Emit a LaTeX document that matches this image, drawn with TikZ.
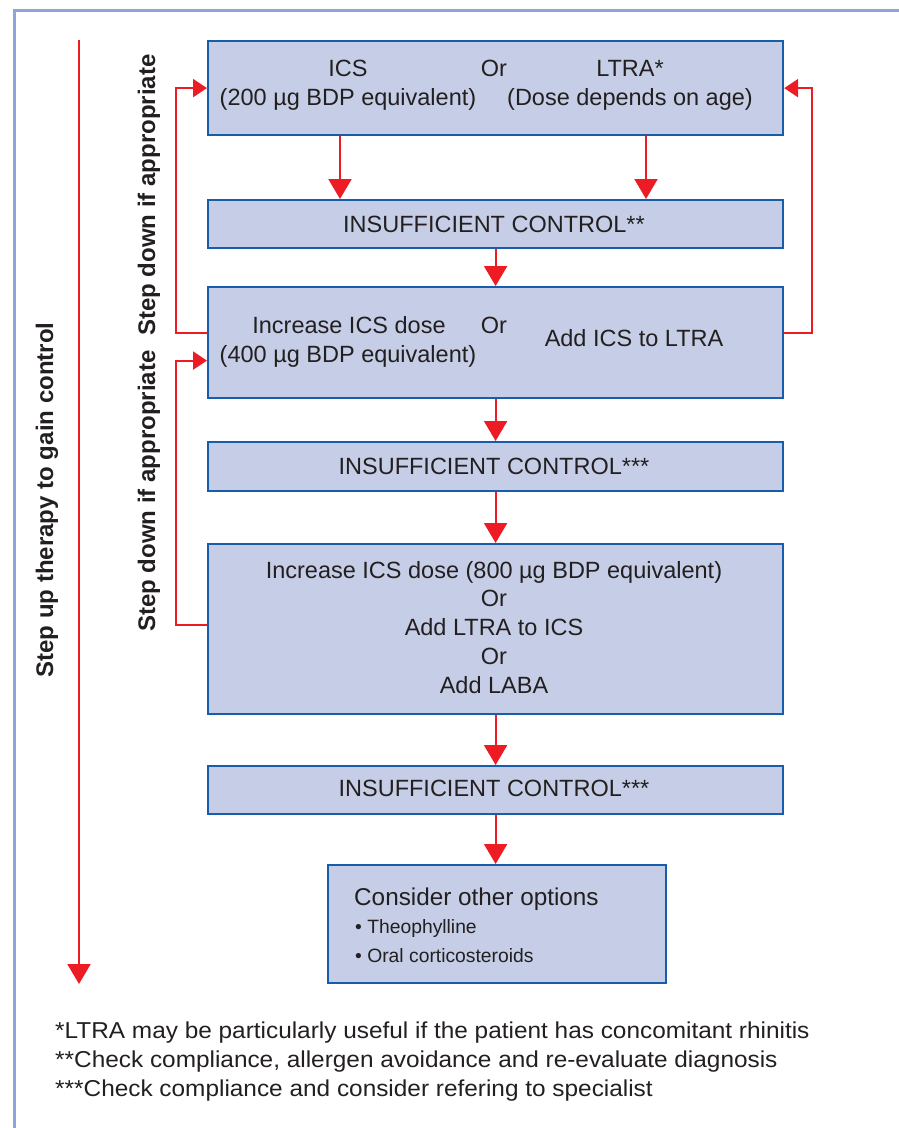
\documentclass[tikz,border=0pt]{standalone}
\usepackage{fontspec}
\setmainfont{Liberation Sans}
\newfontfamily\footfont[FakeStretch=1.06]{Liberation Sans}
\usetikzlibrary{arrows.meta,calc}
\definecolor{boxfill}{RGB}{197,206,230}
\definecolor{boxline}{RGB}{24,92,172}
\definecolor{frameblue}{RGB}{143,164,217}
\definecolor{arrred}{RGB}{237,28,36}
\definecolor{txt}{RGB}{35,31,32}
\begin{document}
\begin{tikzpicture}[x=1pt,y=-1pt,
  box/.style={draw=boxline, line width=2.2pt, fill=boxfill, inner sep=0pt, anchor=north west},
  lbl/.style={text=txt, inner sep=0pt, anchor=base, font=\fontsize{23.5}{28}\selectfont},
  lblw/.style={text=txt, inner sep=0pt, anchor=base west, font=\fontsize{24.3}{28}\selectfont},
  small/.style={text=txt, inner sep=0pt, anchor=base west, font=\fontsize{19.3}{22}\selectfont},
  foot/.style={text=txt, inner sep=0pt, anchor=base west, font=\footfont\fontsize{23}{27}\selectfont},
  side/.style={text=txt, inner sep=0pt, anchor=base, rotate=90, font=\bfseries\fontsize{24}{28}\selectfont},
  arr/.style={draw=arrred, line width=2.2pt, -{Triangle[length=20pt,width=23pt]}},
  back/.style={draw=arrred, line width=2.2pt, -{Triangle[length=14pt,width=18pt]}}]
\useasboundingbox (0,0) rectangle (899,1128);
% frame
\draw[frameblue, line width=3pt] (14,1130) -- (14,10) -- (901,10);

% boxes
\node[box, minimum width=575pt, minimum height=94pt] (A) at (207,40) {};
\node[box, minimum width=575pt, minimum height=48pt] (B) at (207,199) {};
\node[box, minimum width=575pt, minimum height=111pt] (C) at (207,286) {};
\node[box, minimum width=575pt, minimum height=49pt] (D) at (207,441) {};
\node[box, minimum width=575pt, minimum height=170pt] (E) at (207,543) {};
\node[box, minimum width=575pt, minimum height=48pt] (F) at (207,765) {};
\node[box, minimum width=338pt, minimum height=118pt] (G) at (327,864) {};

% box A text
\node[lbl] (a1) at (348,76.5) {ICS};
\node[lbl] (a2) at (348,105.5) {(200 µg BDP equivalent)};
\node[lbl] (a3) at (494,76.5) {Or};
\node[lbl] (a4) at (630,76.5) {LTRA*};
\node[lbl] (a5) at (630,105.5) {(Dose depends on age)};
% box B
\node[lbl] (b1) at (494,232) {INSUFFICIENT CONTROL**};
% box C
\node[lbl] (c1) at (349,333) {Increase ICS dose};
\node[lbl] (c2) at (348,362) {(400 µg BDP equivalent)};
\node[lbl] (c3) at (494,333) {Or};
\node[lbl] (c4) at (634,346) {Add ICS to LTRA};
% box D
\node[lbl] (d1) at (494,474) {INSUFFICIENT CONTROL***};
% box E
\node[lbl] (e1) at (494,578) {Increase ICS dose (800 µg BDP equivalent)};
\node[lbl] (e2) at (494,606) {Or};
\node[lbl] (e3) at (494,635) {Add LTRA to ICS};
\node[lbl] (e4) at (494,664) {Or};
\node[lbl] (e5) at (494,693) {Add LABA};
% box F
\node[lbl] (f1) at (494,796) {INSUFFICIENT CONTROL***};
% box G
\node[lblw] (g1) at (354,905) {Consider other options};
\node[small] (g2) at (355,933) {• Theophylline};
\node[small] (g3) at (355,962) {• Oral corticosteroids};

% side labels
\node[side] (s1) at (53,500) {Step up therapy to gain control};
\node[side] (s2) at (155,195) {Step down if appropriate};
\node[side] (s3) at (155,491) {Step down if appropriate};

% footnotes
\node[foot] (n1) at (55,1038) {*LTRA may be particularly useful if the patient has concomitant rhinitis};
\node[foot] (n2) at (55,1067) {**Check compliance, allergen avoidance and re-evaluate diagnosis};
\node[foot] (n3) at (55,1096) {***Check compliance and consider refering to specialist};

% coordinates
\coordinate (xl) at (340,0);
\coordinate (xr) at (646,0);
\coordinate (fl) at (176,0);
\coordinate (fr) at (812,0);
\coordinate (up0) at (79,40);
\coordinate (up1) at (79,984);

% long arrow
\draw[arr] (up0) -- (up1);

% flow arrows
\draw[arr] (A.south -| xl) -- (B.north -| xl);
\draw[arr] (A.south -| xr) -- (B.north -| xr);
\draw[arr] (B.south) -- (C.north);
\draw[arr] (C.south) -- (D.north);
\draw[arr] (D.south) -- (E.north);
\draw[arr] (E.south) -- (F.north);
\draw[arr] (F.south) -- (F.south |- G.north);

% step-down arrows
\draw[back] ([yshift=9.5pt]C.west) -- ([yshift=9.5pt]C.west -| fl) |- (A.west);
\draw[back] ([yshift=4pt]E.west) -- ([yshift=4pt]E.west -| fl) |- ([yshift=-18pt]C.west);
\draw[back] ([yshift=9.5pt]C.east) -- ([yshift=9.5pt]C.east -| fr) |- (A.east);
\end{tikzpicture}
\end{document}
